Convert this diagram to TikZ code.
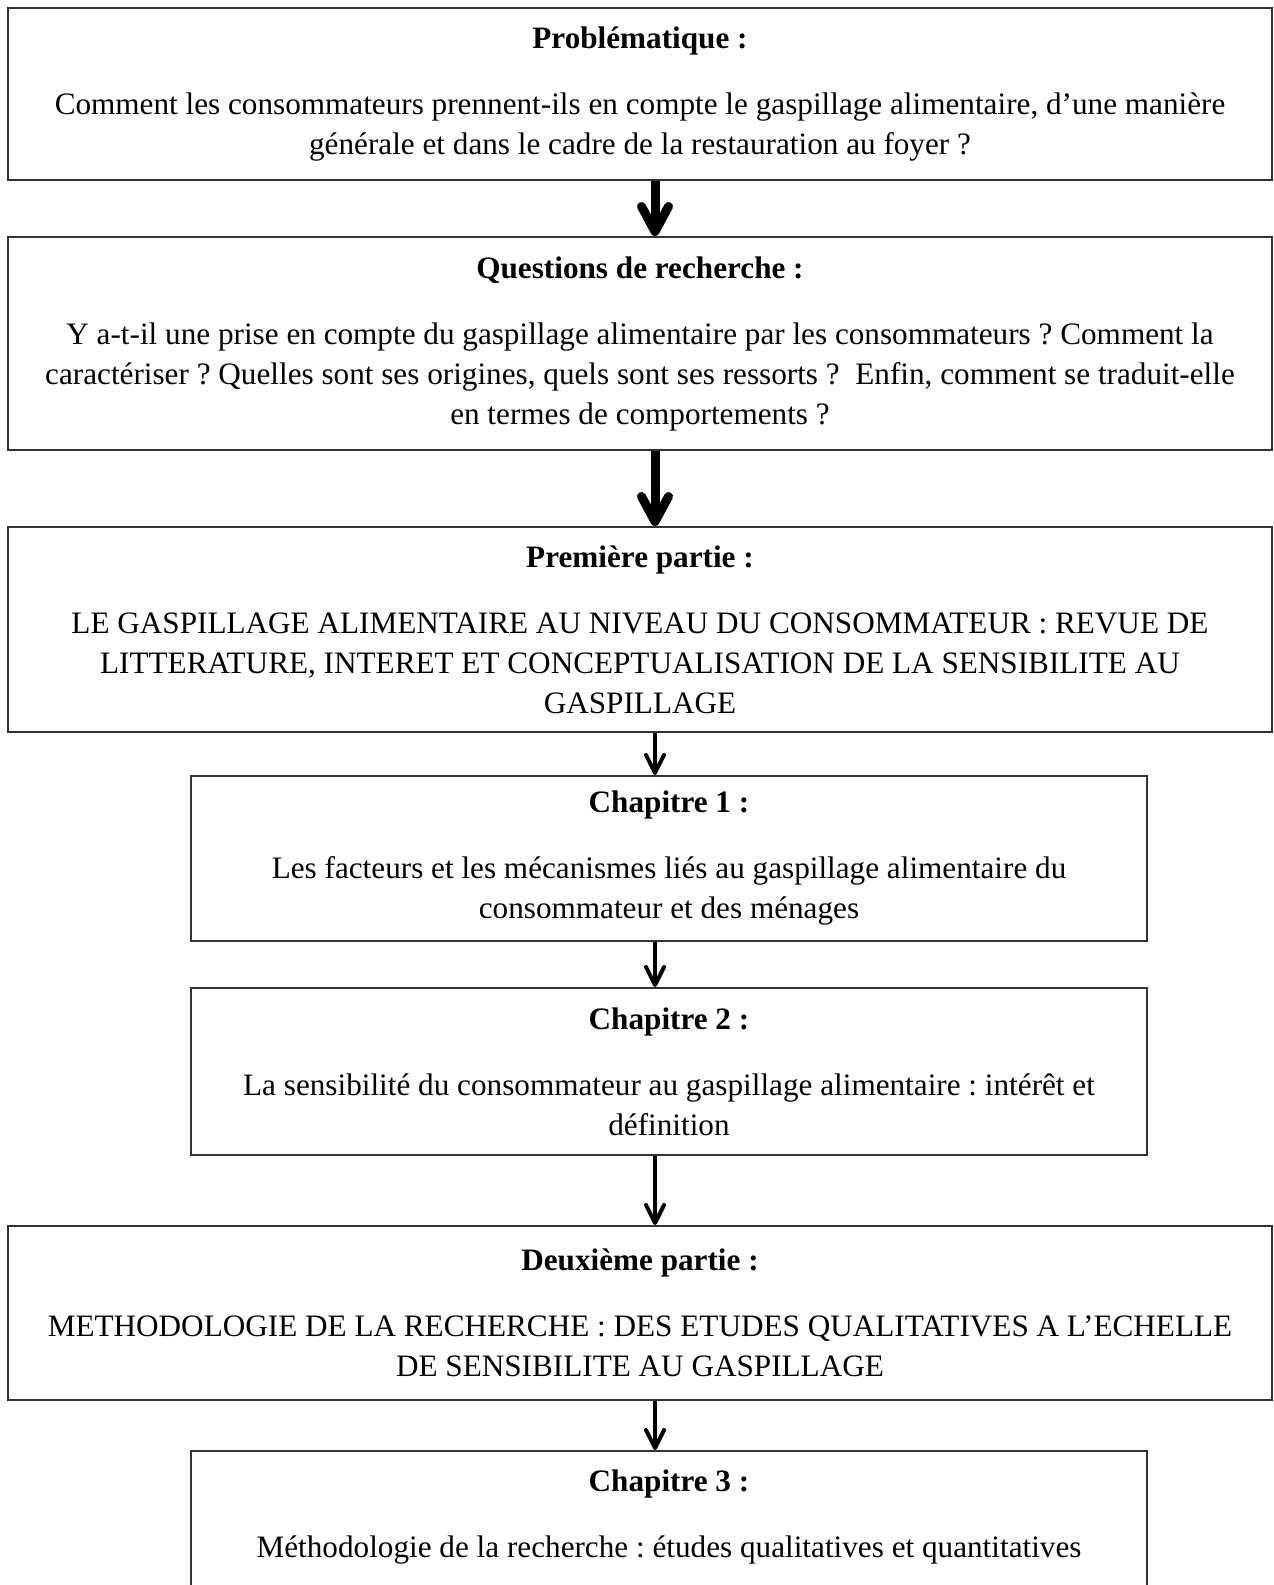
\documentclass[tikz,border=0pt]{standalone}
\usepackage{fontspec}
\setmainfont{Liberation Serif}
\usetikzlibrary{arrows.meta}
\frenchspacing

\begin{document}
\begin{tikzpicture}[x=0.5pt, y=-0.5pt,
                    box node/.style={draw=black!80, line width=1pt, align=center,
                                     inner sep=0pt, font=\fontsize{15.6}{20}\selectfont},
                    part node/.style={box node, minimum width=632pt},
                    chap node/.style={box node, minimum width=478pt},
                    big arrow/.style={line width=4.5pt, -{Straight Barb[round, length=12.5pt, width=13.5pt]}},
                    small arrow/.style={line width=2pt, -{Straight Barb[round, length=9pt, width=9pt]}}]

  \useasboundingbox (0,0) rectangle (1274,1585);
  \clip (0,0) rectangle (1274,1585);

  \node[part node, minimum height=86pt] (prob) at (640,94)
    {\textbf{Problématique :}\\[13pt]
     Comment les consommateurs prennent-ils en compte le gaspillage alimentaire, d’une manière\\
     générale et dans le cadre de la restauration au foyer ?};
  \node[part node, minimum height=106.5pt] (quest) at (640,343.5)
    {\textbf{Questions de recherche :}\\[13pt]
     Y a-t-il une prise en compte du gaspillage alimentaire par les consommateurs ? Comment la\\
     caractériser ? Quelles sont ses origines, quels sont ses ressorts ?~ Enfin, comment se traduit-elle\\
     en termes de comportements ?};
  \node[part node, minimum height=102.5pt] (part1) at (640,629.5)
    {\textbf{Première partie :}\\[13pt]
     LE GASPILLAGE ALIMENTAIRE AU NIVEAU DU CONSOMMATEUR : REVUE DE\\
     LITTERATURE, INTERET ET CONCEPTUALISATION DE LA SENSIBILITE AU\\
     GASPILLAGE};
  \node[chap node, minimum height=82.5pt] (ch1) at (669,858.5)
    {\textbf{Chapitre 1 :}\\[13pt]
     Les facteurs et les mécanismes liés au gaspillage alimentaire du\\
     consommateur et des ménages};
  \node[chap node, minimum height=83.5pt] (ch2) at (669,1071.5)
    {\textbf{Chapitre 2 :}\\[13pt]
     La sensibilité du consommateur au gaspillage alimentaire : intérêt et\\
     définition};
  \node[part node, minimum height=87pt] (part2) at (640,1313)
    {\textbf{Deuxième partie :}\\[13pt]
     METHODOLOGIE DE LA RECHERCHE : DES ETUDES QUALITATIVES A L’ECHELLE\\
     DE SENSIBILITE AU GASPILLAGE};
  \node[chap node, minimum height=82.5pt] (ch3) at (669,1533.5)
    {\textbf{Chapitre 3 :}\\[13pt]
     Méthodologie de la recherche : études qualitatives et quantitatives\\
     \mbox{}};

  \coordinate (ax) at (655,0);

  \draw[big arrow] (prob.south -| ax) -- (quest.north -| ax);
  \draw[big arrow] (quest.south -| ax) -- (part1.north -| ax);
  \draw[small arrow] (part1.south -| ax) -- (ch1.north -| ax);
  \draw[small arrow] (ch1.south -| ax) -- (ch2.north -| ax);
  \draw[small arrow] (ch2.south -| ax) -- (part2.north -| ax);
  \draw[small arrow] (part2.south -| ax) -- (ch3.north -| ax);

\end{tikzpicture}
\end{document}
